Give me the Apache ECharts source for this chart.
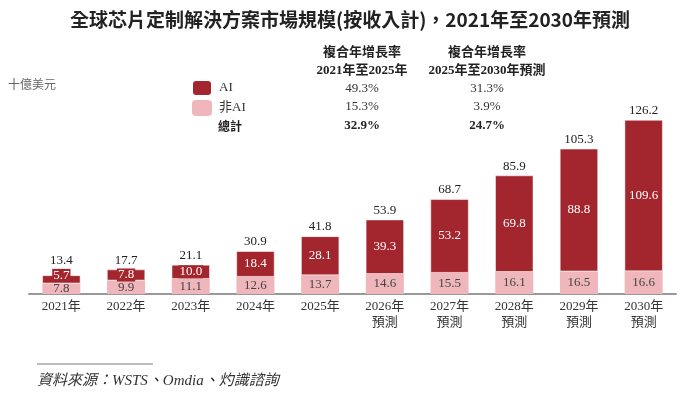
<!DOCTYPE html>
<html lang="zh-Hant">
<head>
    <meta charset="UTF-8">
    <title>全球芯片定制解決方案市場規模</title>
    <style>
        html, body {
            margin: 0;
            padding: 0;
            background: #ffffff;
        }
        #main {
            width: 700px;
            height: 398px;
        }
    </style>
    <script type="text/javascript" src="https://cdn.jsdelivr.net/npm/echarts@6/dist/echarts.min.js"></script>
</head>
<body>
<div id="main"></div>
<script type="text/javascript">
    // data
    var years = ['2021年', '2022年', '2023年', '2024年', '2025年',
        '2026年\n預測', '2027年\n預測', '2028年\n預測', '2029年\n預測', '2030年\n預測'];
    var aiValues = [5.7, 7.8, 10.0, 18.4, 28.1, 39.3, 53.2, 69.8, 88.8, 109.6];
    var nonAiValues = [7.8, 9.9, 11.1, 12.6, 13.7, 14.6, 15.5, 16.1, 16.5, 16.6];
    var totals = [13.4, 17.7, 21.1, 30.9, 41.8, 53.9, 68.7, 85.9, 105.3, 126.2];
    var cagrHeaders = ['複合年增長率\n2021年至2025年', '複合年增長率\n2025年至2030年預測'];
    var cagrAi = ['49.3%', '31.3%'];
    var cagrNonAi = ['15.3%', '3.9%'];
    var cagrTotal = ['32.9%', '24.7%'];

    var serif = '"Liberation Serif", "Noto Sans CJK TC", serif';
    var cjk = '"Noto Sans CJK TC", sans-serif';
    var darkRed = '#a3252d';
    var pink = '#efb7bb';

    var chart = echarts.init(document.getElementById('main'));

    var colX = [362, 487];
    var tableText = [];
    for (var i = 0; i < 2; i++) {
        tableText.push({
            type: 'text', x: colX[i], y: 62,
            style: {text: cagrHeaders[i], font: 'bold 13px ' + serif, fill: '#222',
                align: 'center', verticalAlign: 'middle', lineHeight: 18}
        });
        tableText.push({
            type: 'text', x: colX[i], y: 89,
            style: {text: cagrAi[i], font: '13px ' + serif, fill: '#333', align: 'center', verticalAlign: 'middle'}
        });
        tableText.push({
            type: 'text', x: colX[i], y: 107,
            style: {text: cagrNonAi[i], font: '13px ' + serif, fill: '#333', align: 'center', verticalAlign: 'middle'}
        });
        tableText.push({
            type: 'text', x: colX[i], y: 126,
            style: {text: cagrTotal[i], font: 'bold 13px ' + serif, fill: '#222', align: 'center', verticalAlign: 'middle'}
        });
    }

    // the smallest AI segment is thinner than its label: lift that label (and the total above it)
    var aiData = aiValues.map(function (v) {
        return v < 7 ? {value: v, label: {offset: [0, -4]}} : v;
    });
    var totalData = aiValues.map(function (v) {
        return v < 7 ? {value: 0, label: {offset: [0, -5]}} : 0;
    });

    var option = {
        animation: false,
        title: {
            text: '全球芯片定制解決方案市場規模(按收入計)，2021年至2030年預測',
            left: 'center',
            top: 5,
            textStyle: {fontSize: 19, fontWeight: 'bold', color: '#222', fontFamily: cjk}
        },
        legend: {
            orient: 'vertical',
            left: 191,
            top: 79,
            padding: 0,
            itemWidth: 20,
            itemHeight: 16,
            itemGap: 3,
            selectedMode: false,
            data: ['AI', '非AI'],
            textStyle: {fontSize: 13, color: '#333', fontFamily: serif, padding: [0, 0, 0, 2]}
        },
        grid: {left: 29, right: 24, top: 101, bottom: 104},
        xAxis: {
            type: 'category',
            data: years,
            axisLine: {lineStyle: {color: '#999', width: 2}},
            axisTick: {show: false},
            axisLabel: {color: '#333', fontSize: 13, fontFamily: serif, lineHeight: 16, margin: 5}
        },
        yAxis: {
            type: 'value',
            min: 0,
            max: 140,
            show: false
        },
        series: [
            {
                name: '非AI',
                type: 'bar',
                stack: 'total',
                barWidth: 38,
                data: nonAiValues,
                itemStyle: {color: pink},
                label: {
                    show: true, position: 'inside', color: '#444',
                    fontSize: 13, fontFamily: serif,
                    formatter: function (p) { return p.value.toFixed(1); }
                }
            },
            {
                name: 'AI',
                type: 'bar',
                stack: 'total',
                data: aiData,
                itemStyle: {color: darkRed, borderColor: '#fff', borderWidth: 0.5},
                label: {
                    show: true, position: 'inside', color: '#fff',
                    fontSize: 13, fontFamily: serif,
                    backgroundColor: darkRed, padding: [0, 1],
                    formatter: function (p) { return p.value.toFixed(1); }
                }
            },
            {
                name: 'total',
                type: 'bar',
                stack: 'total',
                data: totalData,
                silent: true,
                label: {
                    show: true, position: 'top', distance: 3, color: '#222',
                    fontSize: 13, fontFamily: serif,
                    formatter: function (p) {
                        return totals[p.dataIndex].toFixed(1);
                    }
                }
            }
        ],
        graphic: [
            {
                type: 'text', left: 8, top: 78,
                style: {text: '十億美元', font: '12px ' + cjk, fill: '#666'}
            },
            {
                type: 'text', x: 218, y: 126,
                style: {text: '總計', font: 'bold 12px ' + cjk, fill: '#222', verticalAlign: 'middle'}
            },
            {
                type: 'line',
                shape: {x1: 37, y1: 364, x2: 153, y2: 364},
                style: {stroke: '#777', lineWidth: 1}
            },
            {
                type: 'text', x: 37, y: 381,
                style: {text: '資料來源：WSTS、Omdia、灼識諮詢', font: 'italic 15px ' + serif, fill: '#333',
                    verticalAlign: 'middle'}
            }
        ].concat(tableText)
    };
    chart.setOption(option);
</script>
</body>
</html>
